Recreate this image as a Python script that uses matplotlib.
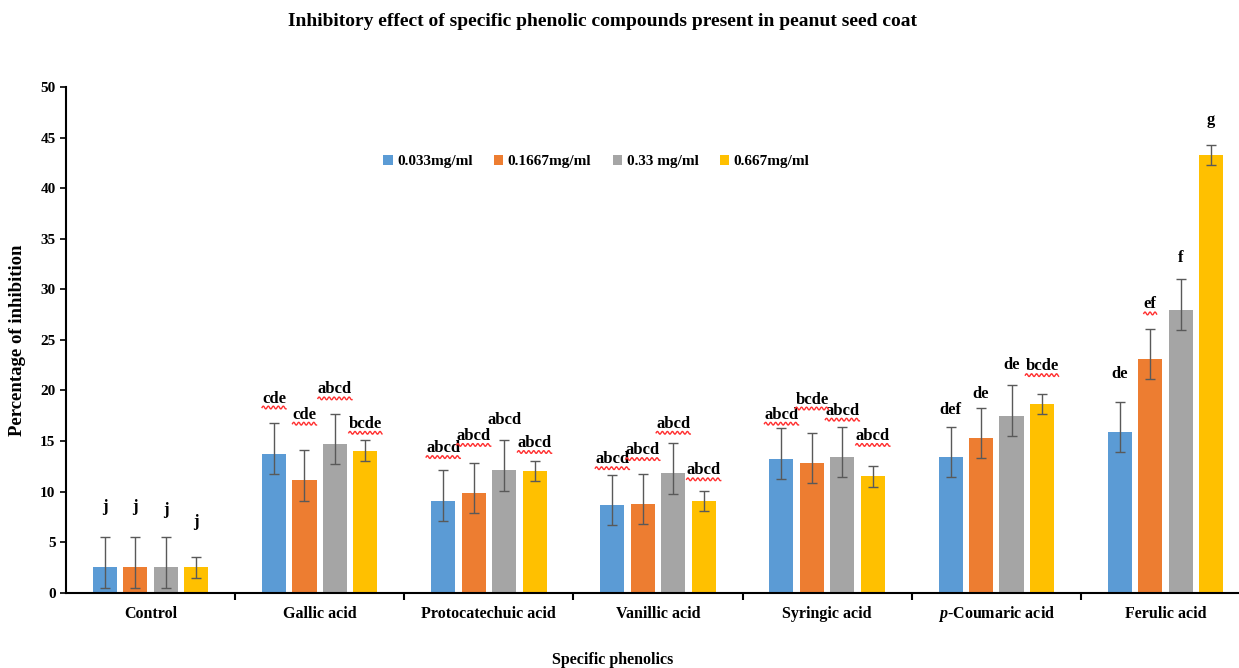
import matplotlib
matplotlib.use("Agg")
import matplotlib.pyplot as plt
import numpy as np

plt.rcParams['font.family'] = ['Liberation Serif', 'DejaVu Serif']
plt.rcParams['font.weight'] = 'bold'
plt.rcParams['mathtext.fontset'] = 'custom'
plt.rcParams['mathtext.rm'] = 'Liberation Serif:bold'
plt.rcParams['mathtext.it'] = 'Liberation Serif:italic:bold'

groups = ["Control", "Gallic acid", "Protocatechuic acid", "Vanillic acid",
          "Syringic acid", "$\\mathit{p}$-Coumaric acid", "Ferulic acid"]
series = ["0.033mg/ml", "0.1667mg/ml", "0.33 mg/ml", "0.667mg/ml"]
colors = ["#5B9BD5", "#ED7D31", "#A5A5A5", "#FFC000"]

# mean % inhibition, one list per concentration
c033 = [2.5, 13.75, 9.1, 8.65, 13.25, 13.4, 15.9]
c1667 = [2.5, 11.1, 9.85, 8.75, 12.8, 15.3, 23.1]
c33 = [2.5, 14.7, 12.1, 11.8, 13.4, 17.5, 28.0]
c667 = [2.5, 14.05, 12.05, 9.05, 11.5, 18.65, 43.3]
means = [c033, c1667, c33, c667]

# error bars (upper / lower)
err_up = [[3] * 7, [3] * 7, [3] * 7, [1] * 7]
err_down = [[2] * 7, [2] * 7, [2] * 7, [1] * 7]

# significance letters, where they sit, and whether they got the red spell-check squiggle
letters = [["j", "cde", "abcd", "abcd", "abcd", "def", "de"],
           ["j", "cde", "abcd", "abcd", "bcde", "de", "ef"],
           ["j", "abcd", "abcd", "abcd", "abcd", "de", "f"],
           ["j", "bcde", "abcd", "abcd", "abcd", "bcde", "g"]]
letter_y = [[8.5, 19.2, 14.3, 13.2, 17.6, 18.1, 21.6],
            [8.5, 17.6, 15.5, 14.1, 19.1, 19.6, 28.5],
            [8.2, 20.1, 17.1, 16.7, 18.0, 22.5, 33.1],
            [7.0, 16.7, 14.8, 12.1, 15.5, 22.4, 46.7]]
squiggle = [[0, 1, 1, 1, 1, 0, 0],
            [0, 1, 1, 1, 1, 0, 1],
            [0, 1, 0, 1, 1, 0, 0],
            [0, 1, 1, 1, 1, 1, 0]]

W, H = 1239, 668
fig = plt.figure(figsize=(W / 100, H / 100), dpi=100)
ax = fig.add_axes([66 / W, 1 - 592.7 / H, (1250 - 66) / W, (592.7 - 87) / H])

x = np.arange(len(groups))
bw = 0.142
pitch = 0.18
texts = []
for i in range(4):
    xs = x + (i - 1.5) * pitch
    ax.bar(xs, means[i], bw, color=colors[i], label=series[i], zorder=2)
    ax.errorbar(xs, means[i], yerr=[err_down[i], err_up[i]], fmt="none",
                ecolor="#595959", elinewidth=1, capsize=3.5, capthick=1, zorder=3)
    for j in range(len(groups)):
        t = ax.text(xs[j], letter_y[i][j], letters[i][j], ha="center", va="center",
                    fontsize=12, fontweight="bold")
        texts.append((t, squiggle[i][j]))

ax.set_xlim(-0.5, 6.5)
ax.set_ylim(0, 50)
ax.set_yticks(np.arange(0, 51, 5))
ax.set_xticks(x)
ax.set_xticklabels(groups)
ax.set_xticks(np.arange(0.5, 6.5, 1), minor=True)
ax.tick_params(axis="x", which="major", length=0, pad=18.5, labelsize=11.5)
ax.tick_params(axis="x", which="minor", length=5, width=1.5, direction="out")
ax.tick_params(axis="y", length=4, width=1.2, direction="out", labelsize=11)
for lbl in ax.get_xticklabels():
    lbl.set_verticalalignment("baseline")
for s in ["top", "right"]:
    ax.spines[s].set_visible(False)
for s in ["left", "bottom"]:
    ax.spines[s].set_linewidth(1.5)

ax.legend(loc="center", bbox_to_anchor=(0.448, 0.852), ncol=4, frameon=False,
          fontsize=11, handlelength=0.6, handleheight=0.6, handletextpad=0.3,
          columnspacing=1.4)

fig.text(603 / W, 1 - 22 / H, "Inhibitory effect of specific phenolic compounds present in peanut seed coat",
         ha="center", va="center", fontsize=14, fontweight="bold")
fig.text(613 / W, 1 - 660 / H, "Specific phenolics", ha="center", va="center",
         fontsize=11.5, fontweight="bold")
fig.text(18 / W, 1 - 340 / H, "Percentage of inhibition", ha="center", va="center",
         rotation=90, fontsize=13.5, fontweight="bold")

# red wavy underline under flagged letters
fig.canvas.draw()
r = fig.canvas.get_renderer()
inv = ax.transData.inverted()
for t, flag in texts:
    if not flag:
        continue
    bb = t.get_window_extent(r)
    px = np.linspace(bb.x0, bb.x1, 60)
    py = bb.y0 - 1 + 1.4 * np.sin((px - bb.x0) / 5.0 * 2 * np.pi)
    pts = inv.transform(np.column_stack([px, py]))
    ax.plot(pts[:, 0], pts[:, 1], color="#FF3030", lw=1.0, zorder=4)

fig.savefig("out.png", dpi=100)
